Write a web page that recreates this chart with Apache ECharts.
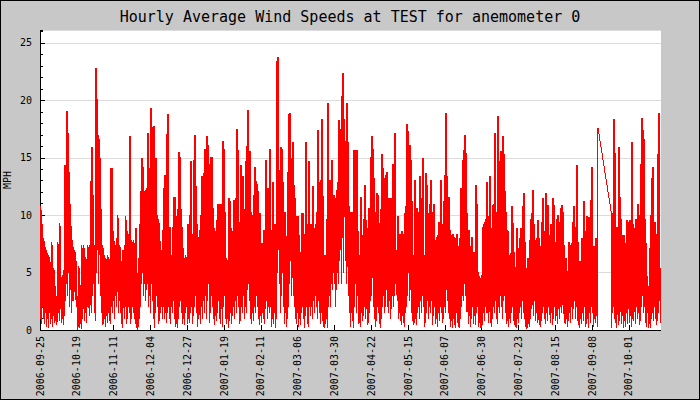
<!DOCTYPE html>
<html>
<head>
<meta charset="utf-8">
<script src="https://cdn.jsdelivr.net/npm/echarts@6/dist/echarts.min.js"></script>
<style>html,body{margin:0;padding:0;background:#c8c8c8}#c{width:700px;height:400px}#c svg path{shape-rendering:crispEdges}</style>
</head>
<body>
<div id="c"></div>
<script>
// Tick labels of the time axis (one every 23 days, approx.)
const xLabels = ['2006-09-25','2006-10-19','2006-11-11','2006-12-04','2006-12-27','2007-01-19','2007-02-11','2007-03-06','2007-03-30','2007-04-22','2007-05-15','2007-06-07','2007-06-30','2007-07-23','2007-08-15','2007-09-08','2007-10-01'];
const tickHours = 552;       // hours between labelled ticks
const sampleHours = 15;      // hours covered by one envelope sample
const spanHours = 9315;      // total time span shown

// Envelope of hourly wind speed (MPH): peak value per sample
const peak = [
9.2,10.8,9.5,8,8,7.5,6.5,7,6.2,6.5,6.2,5.5,7.7,5.2,5.4,4,3,2.5,7.7,7.5,
9.3,4.8,4.5,4.8,5.2,14.4,11.6,19.1,17.2,13.8,11.2,9.3,8,7.4,6.8,7,6.2,3,3,5.6,
4,3.9,7.4,7,7.4,6.5,4.5,6.2,7.4,7,7.4,13,15.9,12,7.4,7.4,22.8,20.1,15,17,
15,10.9,7.6,7.4,6,6.5,4.5,6.2,6.5,6.2,6.2,14.1,14.1,8.9,8,7.4,7.4,8,10,7.4,
7.4,6.3,3.3,7,7,7.4,9.9,8,8.6,7.3,16.9,6,7.8,7.3,7.8,7.1,8.9,5.1,4.5,6.3,
9.2,12.1,15,14.2,11.5,12.1,12.2,12.4,17.2,14.1,9.4,19.3,10.9,17.7,17.8,14.8,15,10,9.7,9.3,
8,7.1,6.3,8.7,12.4,13.5,8.7,17.1,18.8,8.3,9,6.5,6.5,9,11.6,11.6,9.9,6.3,10.5,15.5,
15.1,10.5,9,7.4,6.5,6.3,6.5,6.1,9.2,8.4,10,14.7,8.4,8.4,14.8,17,12.5,9.2,8.3,8.1,
8.7,10,13.4,12.4,13.7,15.8,11.9,16.9,16.1,10.2,14.5,15.1,15.1,10.6,4.4,8.9,7.6,9.6,11,11,
6.7,11,6.5,16.5,15.8,10.3,6.5,6.3,3.5,11.5,11.2,6.5,8.9,8.1,11.3,11,11.5,17.5,15.7,9.4,
8.3,14.4,12.4,13.4,10.3,10.5,14.7,16,19.2,14.8,15.6,10.3,9.4,10,11.8,14.2,13,12.7,12.1,7.4,
10.2,7.4,7.6,7.4,8.7,7.7,14.8,12.2,12.4,12.1,15.8,6.4,8.7,12.9,9.2,8.7,9.2,23.4,23.8,13.2,
13.9,15.9,15.8,12.9,9,10.3,7.4,8.2,13.8,18.8,18.9,15,14.4,16.4,12.6,11.5,9.9,9.7,9.9,8.3,
6.3,6.8,10.2,10.2,7.6,8.4,16.4,8.4,9.2,14.7,9.2,8.3,9.2,12.5,8.9,8,9.2,10.3,17.4,12.9,
11.8,13.1,18.4,11.7,6.5,5.8,6.5,9.7,19.8,11.8,13.1,11.5,14.8,10.9,11.8,11.5,10.9,12.2,12.9,18.3,
17.5,13.8,20.4,22.4,18.4,16.5,15.6,19.8,16.4,10.8,10.3,8,10.3,6.5,15.7,15.7,15.1,15.7,8.6,5.5,
6.5,11.6,8.3,8.3,9.7,12.6,9.6,8.9,6.5,10.6,10.5,15.1,16.9,15.8,13.2,10.3,8.6,11.9,11.8,9.3,
7.4,10.5,15.3,14.1,13.2,9.4,13.5,13.8,9.3,11.5,9.4,11.5,10.6,14.5,14.4,17.2,7.1,3.6,9.9,8,
8.4,7.1,8.6,8.4,5.7,10.2,10.8,17.9,17.3,14.8,16.1,14.8,11.2,6.5,6.3,13.1,9.6,10.6,9.6,10.3,
13.4,10.3,11.5,15,5.7,6.5,13.7,12.6,10.2,9.6,11,13.1,5.1,10.3,11,7.7,7.8,8.1,8.3,9.4,
9.4,13.1,9.2,8.4,11.2,13.5,18.9,13.4,11.3,11.6,8.7,8.3,8,8.4,8.1,7.1,8,8.4,7.3,4.8,
8,12.4,12.4,14.8,15.7,17,15.4,10.2,7.8,8.7,6.5,7.3,8.1,6.8,6.8,6.7,12.6,11,5.2,4.8,
4.7,2.2,4.8,9,9.2,9.4,9.7,12.9,9.7,9.9,13.4,7.3,8.9,10.9,11,17.2,10.3,7,18.6,9.4,
14.7,15.6,10.5,16.9,15.3,12.1,10.3,8.7,8.6,5.8,6.5,6.7,10.8,9.3,6.8,5.5,4.7,8.9,7.1,6.1,
8,8.9,8,10.8,11.9,7.7,5.4,5.4,6.3,6,7.8,9.7,10.2,12.2,9.2,7.8,6.3,8,9.6,8,
5.2,7.3,9.4,11.5,8.6,7.7,11.9,7.7,10.9,8.3,7.4,9.2,7.7,11.5,10.9,7.7,6,9.7,10,8.9,
9.4,10.6,10.9,10.3,7.4,6.1,6.3,3.5,5.1,7.7,7.4,7,7.6,9.4,10.8,9,9,14.4,7.7,3.8,
6,5.4,8,7.6,11.2,7.6,8.6,9.9,6.1,9.8,6.5,11.3,14.2,2.2,7.3,5.8,8,6,17.6,null,
null,null,null,null,null,null,null,null,null,null,null,10.4,8.5,10.2,18.4,15.4,6.8,9,6.3,15.9,
11.6,9.7,8.3,7.4,8.3,6.8,7.6,9.6,9.4,8,9.6,7.6,16.4,9.2,7.7,8.9,9.7,9.3,11,6.8,
10,14.5,18.5,17.4,16.6,9.7,7.6,4.9,3.6,3.8,7.1,10,13.2,14.2,9.3,9.4,8.4,8,15.3,18.9,5.4
];

// Envelope of hourly wind speed (MPH): lull value per sample
const lull = [
1,0.5,2,1,0.5,1.5,0.3,1,0.2,1.5,0.5,1,0.3,1.2,0.6,0.8,0.4,0.7,1.5,0.8,
1.8,0.6,1,0.4,1.2,2.5,4,3,5,2,3.5,1.5,2.5,2.5,3.3,2.6,2,0,0.3,0.2,
0.5,0.1,1,1.8,0.8,1.5,0.6,2,1.9,1.2,2.2,1.5,3,4,1.5,0.8,5,7,4,6.5,
3,1.5,0.4,0.5,1,0.3,1.2,0.6,1.5,0.8,0.5,2,1.5,2.5,1,3,2,3.3,1.5,2.5,
1.5,0.5,0.2,1.9,1,2,0.5,1,2,1.5,0.5,1,2,1.5,1,0.5,0.2,0,0.3,1,
2,4,5,3,4,2.5,3.5,4,2,3,1.5,4,2.5,1,0.2,1.5,3,2,0.5,0.8,
1.5,2,1,2,1,1.5,0.6,1.5,2,1,0.5,2,1.5,2.5,1,0.3,0.5,0.2,1,2,
2.5,1.5,0.5,1,0.4,1.5,2,0.5,1,0.6,1.5,2,0.5,1.2,2,3,1.5,0.3,1,1.3,
0.5,2,1,2.5,1.5,3,1,2.5,4,0.6,1.5,3,2,1,0.4,1.2,0.8,1.5,2.5,1,
0.5,1.8,0.3,2,3,1,0.5,1,0.2,0.8,1.5,0.5,1.2,2,1,2.5,1.5,3,2,0.5,
0.8,2,1.5,3,1,2,1.5,3.5,4,2.5,1,0.5,1.5,0.8,2,1.5,3,2,1,0.4,
1.2,0.6,1.5,1,0.5,1.8,2.5,1,2,1.5,2,0.3,1,0.5,1.5,0.2,1,5,7,4,
1.5,3,5,2,0.5,1.5,0.3,1,2,4,6,3,4.5,3,2,1,0.5,1.5,0.3,1,
0.4,1.5,2,1,0.2,1.2,2,0.5,0.3,2,1.2,2,1,2.5,1.5,3,2,1,2.5,1.5,
0.5,1.5,0.8,0.3,0.2,0.5,1,0.2,2,3,2,4,3.5,5,4,2,3.5,5,4,6,
7,4,8,5,9.8,6,4,5.5,3,1.5,0.3,1.5,0.8,0.2,2,4,1.5,3,0.5,0.6,
0.3,1.5,0.8,1.2,2,1,1.8,0.4,0.6,1.5,2.5,3,4.5,2,1,0.3,0.8,2,1.5,0.5,
0.2,1,2,3,1.5,2,3.5,2,1.5,2.5,1,1.8,3,2,3,4,3.6,2.5,1,1.5,
0.8,0.4,1.2,0.6,0.3,1.5,2,3,5,2.5,3.5,1.5,0.8,0.4,0.6,1,0.4,1.5,2,1,
2.5,1.5,3,2,0.3,0.6,1.5,2.5,1,2,1.5,2.5,0.4,1.2,2,0.5,1,0.3,1.5,0.8,
2,1.5,0.6,1,2,1.5,3.5,2.5,1.5,1,0.3,0.8,0.2,1,0.4,0.2,1.5,0.6,0.3,0.2,
1,2,3,2.5,4,3,1.6,1.6,0.5,1.2,0.3,1,2,0.5,1.2,0.4,1.5,2,0.3,0.6,
0.2,0.2,0.4,1.5,0.8,2,1.5,1.5,0.6,1.6,0.6,0.3,1,2,1.5,2.5,1,0.5,2,1.5,
3,2,1,2.5,3,1.5,0.5,0.8,0.3,1,0.6,1.5,2,0.8,0.4,0.3,0.2,1,0.6,1.5,
2,1,2.5,1.5,1,0.3,0.1,0.2,0.5,0.3,1,1.8,2.2,1.2,2.5,0.8,1.5,0.6,0.9,0.4,
0.3,0.8,1.5,2,1,0.5,1.5,0.8,2,1.3,0.6,1.5,0.4,1,2,0.8,1.2,0.5,1.8,1,
2,1.5,2.2,1.4,0.6,0.5,1,0.3,0.8,1.5,0.6,2,1,1.8,2.5,1,2,0.8,0.4,0.2,
1,0.5,1.5,0.8,2,0.3,0.5,1,0.2,1.5,0.6,2,1.5,0.3,1,0.6,1.2,0.3,null,null,
null,null,null,null,null,null,null,null,null,null,null,0.2,1.5,2,1,0.6,0.2,1.3,0.4,0.8,
1.6,0.5,1.2,0.2,0.8,0.3,1.5,0.5,1.8,0.6,1.2,0.3,1,0.8,1.6,0.5,2,1,1.5,0.4,
0.8,2,3,1.5,2,0.6,0.3,1.5,0.2,0.5,0.2,1,1.5,0.8,2,1,0.4,0.8,1.5,2.5,0.6
];

const series = [];
for (let i = 0; i < peak.length; i++) {
  if (peak[i] != null) series.push([i * sampleHours, peak[i]]);
  if (lull[i] != null) series.push([i * sampleHours + sampleHours / 2, lull[i]]);
}
const tickVals = xLabels.map((_, i) => i * tickHours);
const mono = 'DejaVu Sans Mono';

const chart = echarts.init(document.getElementById('c'), null, {renderer: 'svg'});
chart.setOption({
  animation: false,
  backgroundColor: '#c8c8c8',
  title: {
    text: 'Hourly Average Wind Speeds at TEST for anemometer 0',
    left: 'center', top: 4,
    textStyle: {fontFamily: mono, fontSize: 15, fontWeight: 'normal', color: '#000'}
  },
  graphic: [{
    type: 'rect', silent: true, z: 100,
    shape: {x: 0.5, y: 0.5, width: 699, height: 399},
    style: {fill: 'none', stroke: '#000', lineWidth: 1}
  }],
  grid: {left: 40, right: 39, top: 30, bottom: 70, show: true, backgroundColor: '#fff', borderWidth: 0, outerBoundsMode: 'none', containLabel: false},
  xAxis: {
    type: 'value', min: 0, max: spanHours,
    axisLine: {show: true, onZero: false, lineStyle: {color: '#000', width: 1}},
    axisTick: {show: true, inside: true, length: 5, customValues: tickVals, lineStyle: {color: '#000'}},
    axisLabel: {
      customValues: tickVals, rotate: 90, margin: 6, color: '#000',
      fontFamily: mono, fontSize: 10,
      formatter: v => xLabels[Math.round(v / tickHours)] || ''
    },
    splitLine: {show: false}
  },
  yAxis: [{
    type: 'value', min: 0, max: 26.13, interval: 5,
    name: 'MPH', nameLocation: 'middle', nameGap: 28, nameMoveOverlap: false,
    nameTextStyle: {fontFamily: mono, fontSize: 10, color: '#000'},
    axisLine: {show: true, lineStyle: {color: '#000', width: 1}},
    axisTick: {show: true, inside: true, length: 5, lineStyle: {color: '#000'}},
    axisLabel: {showMaxLabel: false, margin: 8, color: '#000', fontFamily: mono, fontSize: 10},
    splitLine: {show: true, lineStyle: {color: '#dcdcdc', width: 1}}
  }, {
    type: 'value', min: 0, max: 26.13, interval: 1, position: 'left', offset: 0,
    axisLine: {show: false},
    axisTick: {show: true, inside: true, length: 3, lineStyle: {color: '#000'}},
    axisLabel: {show: false},
    splitLine: {show: false}
  }],
  series: [{
    type: 'line', data: series, yAxisIndex: 0,
    showSymbol: false, symbol: 'none', sampling: false,
    lineStyle: {color: '#ff0000', width: 1},
    itemStyle: {color: '#ff0000'},
    emphasis: {disabled: true}, silent: true, z: 3
  }]
});
</script>
</body>
</html>
